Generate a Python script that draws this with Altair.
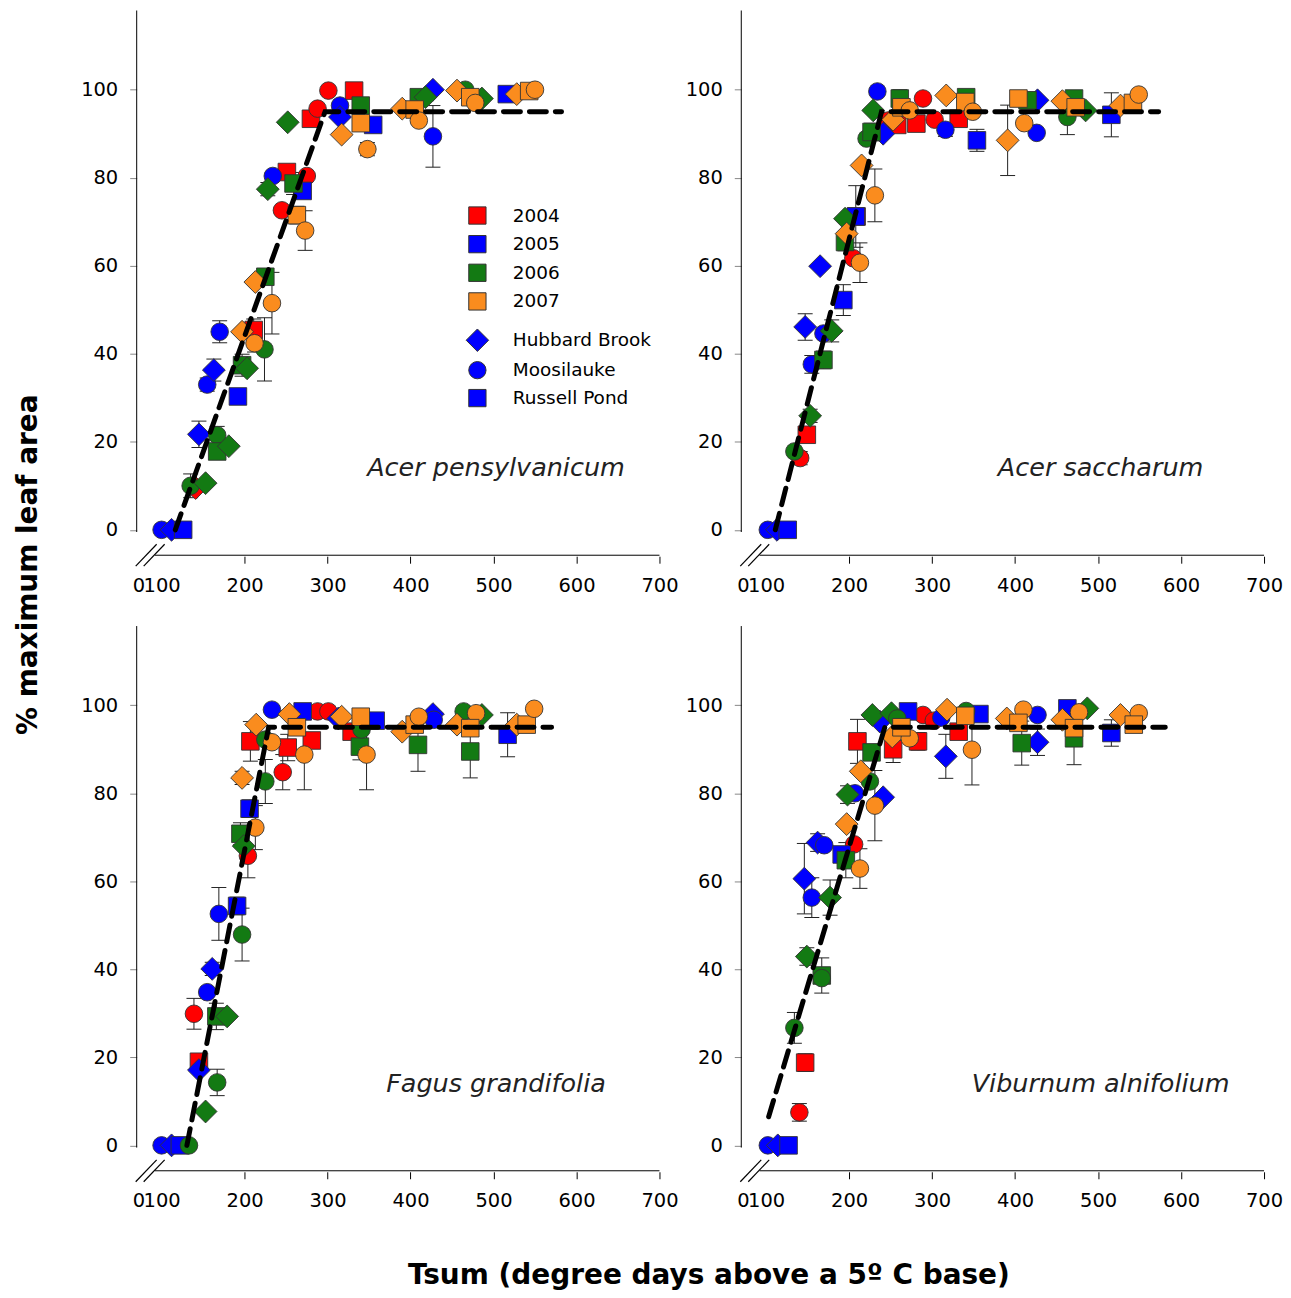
import altair as alt
import pandas as pd

FONT = "DejaVu Sans"
YEARS = ["2004", "2005", "2006", "2007"]
YEAR_COLORS = ["#FF0000", "#0000FF", "#137A13", "#FA8C1E"]
SITE_NAMES = {"H": "Hubbard Brook", "M": "Moosilauke", "R": "Russell Pond"}
SITES = ["Hubbard Brook", "Moosilauke", "Russell Pond"]
SPECIES = ["Acer pensylvanicum", "Acer saccharum", "Fagus grandifolia", "Viburnum alnifolium"]
X_TICKS = [72, 100, 200, 300, 400, 500, 600, 700]
Y_TICKS = [0, 20, 40, 60, 80, 100]

# ---- Acer pensylvanicum ----
ap_tsum = [100, 112, 126, 135, 141, 153, 145, 167, 167, 181, 155, 163, 170, 192, 197, 203, 224, 197, 211, 212,
           233, 213, 225, 245, 263, 273, 234, 251, 275, 228, 259, 270, 252, 280, 288, 301, 332, 315, 315, 340,
           340, 355, 317, 348, 390, 405, 410, 410, 418, 427, 427, 456, 466, 472, 486, 478, 516, 528, 543, 550]
ap_pct = [0, 0, 0, 10, 9.5, 10.6, 21.7, 21.5, 17.8, 19, 33, 36.3, 45, 30.3, 37.4, 36.7, 41, 45, 45.4, 42.4,
          51.5, 56.3, 57.5, 72.6, 71.5, 68, 80.4, 81.3, 80.4, 77.4, 78.7, 77, 92.6, 93.4, 95.7, 99.8, 99.8, 96.4, 93.8, 96.4,
          92.4, 92, 89.8, 86.5, 95.7, 95.5, 93, 98.3, 98.3, 100, 89.4, 99.8, 100, 98.3, 98, 97, 99, 99, 99.7, 100]
ap_year = [2005, 2005, 2005, 2006, 2004, 2006, 2005, 2006, 2006, 2006, 2005, 2005, 2005, 2005, 2006, 2006, 2006, 2007, 2004, 2007,
           2007, 2007, 2006, 2004, 2007, 2007, 2005, 2004, 2004, 2006, 2006, 2005, 2006, 2004, 2004, 2004, 2004, 2005, 2005, 2006,
           2007, 2005, 2007, 2007, 2007, 2007, 2007, 2006, 2006, 2005, 2005, 2007, 2006, 2007, 2006, 2007, 2005, 2007, 2007, 2007]
ap_site = ["M", "H", "R", "M", "H", "H", "H", "M", "R", "H", "M", "H", "M", "R", "R", "H", "M", "H", "R", "M",
           "M", "H", "R", "M", "R", "M", "M", "R", "M", "H", "R", "R", "H", "R", "M", "M", "R", "M", "H", "R",
           "R", "R", "H", "M", "H", "R", "M", "R", "H", "H", "M", "H", "M", "R", "H", "M", "R", "H", "R", "M"]
ap_err = [0, 0, 0, 2.7, 0, 0, 3, 2, 0, 0, 1.5, 2.5, 2.5, 0, 2.5, 0, 7.2, 0, 2.5, 2,
          7, 0, 1.5, 0, 2, 4.5, 0, 1.5, 0, 1.5, 2.5, 0, 0, 0, 0, 0, 0, 0, 0, 0,
          0, 0, 0, 1.5, 0, 0, 0, 0, 0, 0, 7, 0, 0, 0, 0, 0, 0, 0, 0, 0]
ap_fit_x = [116.5, 297, 582]
ap_fit_y = [0, 95, 95]

# ---- Acer saccharum ----
as_tsum = [102, 113, 126, 141, 134, 149, 153, 155, 169, 147, 169, 179, 193, 165, 205, 213, 195, 197, 195, 209,
           208, 231, 215, 221, 227, 241, 229, 234, 247, 253, 261, 263, 273, 281, 289, 303, 317, 316, 332, 341,
           340, 349, 354, 391, 404, 411, 415, 427, 426, 457, 463, 471, 473, 485, 516, 527, 542, 549, 258]
as_pct = [0, 0, 0, 16.3, 17.8, 21.6, 25.9, 37.6, 38.6, 46.1, 44.6, 45.2, 52.2, 59.9, 61.7, 60.7, 65.4, 67.3, 70.7, 71.2,
          71.2, 76, 82.8, 88.9, 90.4, 90, 95.3, 99.6, 93, 93.2, 98, 96, 95.3, 92.3, 98, 93.2, 98.7, 90.9, 93.4, 98.3,
          97.2, 95, 88.5, 88.5, 98, 92.4, 97.6, 97.6, 90.2, 97.4, 93.8, 98, 96, 95.3, 94.3, 96.4, 97, 98.9, 92]
as_year = [2005, 2005, 2005, 2004, 2006, 2004, 2006, 2005, 2006, 2005, 2005, 2006, 2005, 2005, 2004, 2007, 2006, 2007, 2006, 2004,
           2005, 2007, 2007, 2006, 2006, 2005, 2006, 2005, 2004, 2007, 2006, 2007, 2007, 2004, 2004, 2004, 2007, 2005, 2004, 2006,
           2007, 2007, 2005, 2007, 2007, 2007, 2006, 2005, 2005, 2007, 2006, 2006, 2007, 2006, 2005, 2007, 2007, 2007, 2004]
as_site = ["M", "H", "R", "M", "M", "R", "H", "M", "R", "H", "M", "H", "R", "H", "M", "M", "R", "H", "H", "R",
           "R", "M", "H", "M", "R", "H", "H", "M", "M", "H", "R", "R", "M", "R", "M", "M", "H", "M", "R", "R",
           "R", "M", "R", "H", "R", "M", "R", "H", "M", "H", "M", "R", "R", "H", "R", "H", "R", "M", "R"]
as_err = [0, 0, 0, 1.5, 0, 1.5, 1.5, 2, 2, 3, 0, 2.5, 3.5, 0, 0, 4.5, 2, 0, 0, 0,
          7, 6, 0, 0, 2, 0, 0, 0, 0, 0, 2, 0, 0, 1.5, 0, 0, 0, 1.5, 0, 0,
          0, 0, 2.5, 8, 0, 0, 0, 0, 0, 0, 4, 0, 0, 0, 5, 0, 0, 0, 1.5]
as_fit_x = [111, 239, 573]
as_fit_y = [0, 95, 95]

# ---- Fagus grandifolia ----
fg_tsum = [100, 112, 122, 133, 153, 167, 145, 145, 139, 166, 179, 155, 161, 169, 191, 197, 204, 195, 199, 213,
           206, 225, 197, 246, 272, 207, 252, 281, 233, 225, 214, 233, 254, 263, 270, 288, 301, 313, 317, 329,
           340, 358, 339, 347, 341, 390, 405, 410, 409, 427, 428, 456, 464, 479, 486, 472, 472, 517, 528, 540, 549]
fg_pct = [0, 0, 0, 0, 7.7, 14.3, 19, 17.1, 29.9, 29.3, 29.3, 34.8, 40.1, 52.6, 54.4, 47.9, 65.8, 70.8, 68, 72.2,
          76.5, 82.7, 83.5, 84.8, 88.8, 91.8, 90.4, 92, 91.6, 92.2, 95.6, 99, 98, 95, 98.6, 98.6, 98.6, 97, 97.4, 94,
          97.4, 96.5, 90.6, 88.8, 94.5, 94, 95.6, 97.4, 91, 98, 96.7, 95.6, 98.6, 98.2, 97.8, 94.8, 89.5, 93.3, 95.6, 95.6, 99.2]
fg_year = [2005, 2005, 2005, 2006, 2006, 2006, 2004, 2005, 2004, 2006, 2006, 2005, 2005, 2005, 2005, 2006, 2004, 2006, 2006, 2007,
           2005, 2006, 2007, 2004, 2007, 2004, 2004, 2004, 2007, 2006, 2007, 2005, 2007, 2007, 2005, 2004, 2004, 2005, 2007, 2004,
           2007, 2005, 2006, 2007, 2006, 2007, 2007, 2007, 2006, 2005, 2005, 2007, 2006, 2007, 2006, 2007, 2006, 2005, 2007, 2007, 2007]
fg_site = ["M", "H", "R", "M", "H", "M", "R", "H", "M", "R", "H", "M", "H", "M", "R", "M", "M", "R", "H", "M",
           "R", "M", "H", "M", "M", "R", "R", "R", "M", "M", "H", "M", "H", "R", "R", "M", "M", "H", "H", "R",
           "R", "R", "R", "M", "M", "H", "R", "M", "R", "H", "M", "H", "M", "M", "H", "R", "R", "R", "H", "R", "M"]
fg_err = [0, 0, 0, 0, 0, 3, 1.5, 0, 3.5, 3, 0, 0, 1.5, 6, 2, 6, 5, 2.5, 0, 5,
          2, 5, 1.5, 4, 8, 4.5, 3, 0, 0, 0, 0, 0, 0, 0, 0, 0, 0, 0, 0, 0,
          0, 0, 3, 8, 0, 0, 0, 0, 6, 0, 0, 0, 0, 0, 0, 0, 6, 5, 0, 0, 0]
fg_fit_x = [130.5, 229, 570]
fg_fit_y = [0, 95, 95]

# ---- Viburnum alnifolium ----
va_tsum = [102, 114, 127, 140, 147, 134, 167, 167, 149, 177, 155, 146, 162, 170, 206, 191, 196, 213, 197, 231,
           241, 198, 207, 225, 214, 227, 210, 228, 251, 237, 258, 271, 252, 273, 263, 253, 283, 289, 302, 311,
           318, 316.5, 332, 341, 340, 357, 348, 390, 410, 404, 408, 427, 427, 463, 487, 457, 477, 471, 471, 516,
           527, 549, 543]
va_pct = [0, 0, 0, 7.5, 18.8, 26.7, 38.6, 38, 42.9, 56.3, 56.3, 60.6, 68.8, 68.2, 68.4, 66.1, 64.8, 62.9, 73, 77.2,
          79.1, 79.7, 80, 82.7, 85, 89.3, 91.8, 97.8, 98.2, 96.3, 97, 98.6, 92.9, 92.5, 95, 90, 91.8, 97.8, 96.5, 97.2,
          99, 88.4, 94, 98.7, 97.6, 98, 89.9, 97, 99, 96, 91.4, 97.8, 91.6, 99.3, 99.3, 96.7, 98.4, 94.8, 92.5, 93.7,
          97.8, 98.2, 95.6]
va_year = [2005, 2005, 2005, 2004, 2004, 2006, 2006, 2006, 2006, 2006, 2005, 2005, 2005, 2005, 2004, 2005, 2006, 2007, 2007, 2007,
           2005, 2006, 2005, 2006, 2007, 2006, 2004, 2006, 2006, 2005, 2006, 2005, 2007, 2007, 2007, 2004, 2004, 2004, 2004, 2005,
           2007, 2005, 2004, 2006, 2007, 2005, 2007, 2007, 2007, 2007, 2006, 2005, 2005, 2005, 2006, 2007, 2007, 2007, 2006, 2005,
           2007, 2007, 2007]
va_site = ["M", "H", "R", "M", "R", "M", "R", "M", "H", "H", "M", "H", "H", "M", "M", "R", "R", "M", "H", "M",
           "H", "H", "M", "M", "H", "R", "R", "H", "H", "H", "M", "R", "H", "M", "R", "R", "R", "M", "M", "M",
           "H", "H", "R", "M", "R", "R", "M", "H", "M", "R", "R", "M", "H", "R", "H", "H", "M", "R", "R", "R",
           "H", "M", "R"]
va_err = [0, 0, 0, 2, 2, 3.5, 4, 0, 2, 4, 4.5, 8, 2, 0, 0, 0, 4, 4.5, 0, 8,
          0, 2, 0, 0, 0, 0, 5, 0, 0, 0, 0, 0, 0, 0, 0, 3, 2, 0, 0, 0,
          0, 5, 0, 0, 0, 0, 8, 0, 0, 0, 5, 0, 3, 0, 0, 0, 0, 0, 6, 3,
          0, 0, 0]
va_fit_x = [103, 243, 581]
va_fit_y = [6.5, 95, 95]

LABEL_X = 503
LABEL_Y = 14

W, H = 524, 547
XS = alt.Scale(domain=[70, 700], nice=False, zero=False)
YS = alt.Scale(domain=[-6, 118], nice=False, zero=False)
DIAMOND = "M0,-1.3L1.3,0L0,1.3L-1.3,0Z"

color_scale = alt.Scale(domain=YEARS, range=YEAR_COLORS)
shape_scale = alt.Scale(domain=SITES, range=[DIAMOND, "circle", "square"])
color_legend = alt.Legend(title=None, orient="none", legendX=332, legendY=196, symbolType="square",
                          symbolSize=300, symbolStrokeColor="#333333", symbolStrokeWidth=1,
                          labelFont=FONT, labelFontSize=18.5, labelColor="black", labelOffset=26,
                          rowPadding=5.7, padding=0)
shape_legend = alt.Legend(title=None, orient="none", legendX=332, legendY=321,
                          symbolSize=300, symbolFillColor="#0000FF", symbolStrokeColor="#333333",
                          symbolStrokeWidth=1, labelFont=FONT, labelFontSize=18.5, labelColor="black",
                          labelOffset=26, rowPadding=5, padding=0)


def make_df(tsum, pct, year, site, err):
    df = pd.DataFrame({"tsum": tsum, "pct": pct, "year": [str(y) for y in year],
                       "site": [SITE_NAMES[s] for s in site], "err": err})
    df["lo"] = df["pct"] - df["err"]
    df["hi"] = df["pct"] + df["err"]
    return df.sort_values("year", kind="stable").reset_index(drop=True)


def panel(df, fit_x, fit_y, species, xtitle=False, ytitle=False):
    xkw = dict(values=X_TICKS, labelExpr="datum.value < 90 ? '0' : datum.label",
               tickColor={"condition": {"test": "datum.value < 150", "value": "transparent"}, "value": "black"},
               domain=False, grid=False, tickSize=7, tickWidth=1, labelPadding=13, labelFlush=False,
               labelOverlap=False, labelFont=FONT, labelFontSize=19.5, labelColor="black")
    if xtitle:
        xkw.update(title="Tsum (degree days above a 5\u00ba C base)", titleX=573, titleY=104,
                   titleAlign="center", titleBaseline="middle", titleFont=FONT, titleFontSize=28,
                   titleFontWeight="bold", titleColor="black")
    else:
        xkw.update(title=None)
    ykw = dict(values=Y_TICKS, domain=False, grid=False, tickSize=7, tickWidth=1, labelPadding=12,
               labelFont=FONT, labelFontSize=19.5, labelColor="black")
    if ytitle:
        ykw.update(title="% maximum leaf area", titleX=-108, titleY=555, titleAngle=270,
                   titleAlign="center", titleBaseline="middle", titleFont=FONT, titleFontSize=28,
                   titleFontWeight="bold", titleColor="black")
    else:
        ykw.update(title=None)
    xa = alt.Axis(**xkw)
    ya = alt.Axis(**ykw)

    errdf = df[df["err"] > 0]
    base_err = alt.Chart(errdf)
    rules = base_err.mark_rule(color="#222222", strokeWidth=1).encode(
        x=alt.X("tsum:Q", scale=XS, axis=xa), y=alt.Y("lo:Q", scale=YS, axis=ya), y2="hi:Q")
    cap_lo = base_err.mark_tick(orient="horizontal", size=15, thickness=1, color="#222222", opacity=1).encode(
        x=alt.X("tsum:Q", scale=XS, axis=xa), y=alt.Y("lo:Q", scale=YS, axis=ya))
    cap_hi = base_err.mark_tick(orient="horizontal", size=15, thickness=1, color="#222222", opacity=1).encode(
        x=alt.X("tsum:Q", scale=XS, axis=xa), y=alt.Y("hi:Q", scale=YS, axis=ya))

    pts = alt.Chart(df).mark_point(filled=True, opacity=1, size=310, stroke="#333333", strokeWidth=0.9).encode(
        x=alt.X("tsum:Q", scale=XS, axis=xa),
        y=alt.Y("pct:Q", scale=YS, axis=ya),
        color=alt.Color("year:N", scale=color_scale, legend=color_legend),
        shape=alt.Shape("site:N", scale=shape_scale, legend=shape_legend),
    )

    fit = alt.Chart(pd.DataFrame({"tsum": fit_x, "pct": fit_y})).mark_line(
        color="black", strokeWidth=5, strokeDash=[17, 9], strokeCap="round").encode(
        x=alt.X("tsum:Q", scale=XS, axis=xa), y=alt.Y("pct:Q", scale=YS, axis=ya))

    lab = alt.Chart(pd.DataFrame({"tsum": [LABEL_X], "pct": [LABEL_Y], "t": [species]})).mark_text(
        font=FONT, fontSize=25.5, fontStyle="italic", color="#222222", align="center", baseline="middle").encode(
        x=alt.X("tsum:Q", scale=XS, axis=xa), y=alt.Y("pct:Q", scale=YS, axis=ya), text="t:N")

    yline = alt.Chart(pd.DataFrame({"a": [118], "b": [-0.5]})).mark_rule(color="black", strokeWidth=1).encode(
        x=alt.value(0), y=alt.Y("a:Q", scale=YS, axis=ya), y2="b:Q")
    xline = alt.Chart(pd.DataFrame({"a": [92], "b": [700]})).mark_rule(color="black", strokeWidth=1).encode(
        x=alt.X("a:Q", scale=XS, axis=xa), x2="b:Q", y=alt.value(H - 1))
    brk1 = alt.Chart(pd.DataFrame({"k": [1]})).mark_rule(color="black", strokeWidth=1.2).encode(
        x=alt.value(-1), x2=alt.value(20), y=alt.value(H + 10), y2=alt.value(H - 12))
    brk2 = alt.Chart(pd.DataFrame({"k": [1]})).mark_rule(color="black", strokeWidth=1.2).encode(
        x=alt.value(7), x2=alt.value(28), y=alt.value(H + 10), y2=alt.value(H - 12))

    return alt.layer(rules, cap_lo, cap_hi, pts, fit, lab, yline, xline, brk1, brk2).properties(width=W, height=H)


p1 = panel(make_df(ap_tsum, ap_pct, ap_year, ap_site, ap_err), ap_fit_x, ap_fit_y, SPECIES[0], ytitle=True)
p2 = panel(make_df(as_tsum, as_pct, as_year, as_site, as_err), as_fit_x, as_fit_y, SPECIES[1])
p3 = panel(make_df(fg_tsum, fg_pct, fg_year, fg_site, fg_err), fg_fit_x, fg_fit_y, SPECIES[2], xtitle=True)
p4 = panel(make_df(va_tsum, va_pct, va_year, va_site, va_err), va_fit_x, va_fit_y, SPECIES[3])

chart = alt.concat(p1, p2, p3, p4, columns=2, spacing={"row": 70, "column": 82}, bounds="flush").properties(
    padding={"left": 7, "top": 0, "right": 0, "bottom": 0}
).configure_view(stroke=None)

chart.save("out.html", embed_options={"renderer": "svg", "actions": False})
